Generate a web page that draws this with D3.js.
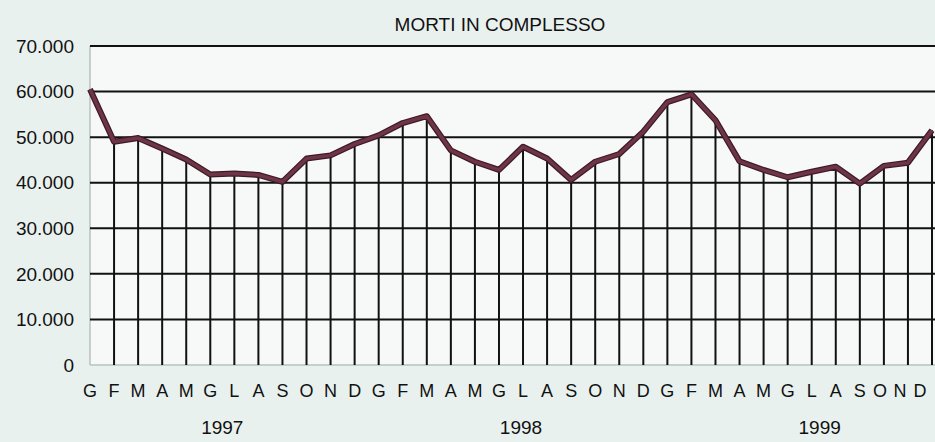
<!DOCTYPE html>
<html>
<head>
<meta charset="utf-8">
<script src="https://cdn.jsdelivr.net/npm/d3@7"></script>
<style>
  body { margin: 0; background: #e9f1ef; }
  svg { display: block; }
</style>
</head>
<body>
<svg id="chart" width="935" height="442"></svg>
<script>
// data: monthly deaths 1997-1999
const months = ["G","F","M","A","M","G","L","A","S","O","N","D"];
const years = ["1997", "1998", "1999"];
const deaths1997 = [60500, 49000, 49800, 47500, 45100, 41800, 42000, 41700, 40200, 45300, 46000, 48500];
const deaths1998 = [50400, 53100, 54600, 47100, 44600, 42800, 47900, 45300, 40600, 44600, 46300, 51200];
const deaths1999 = [57700, 59400, 53700, 44700, 42800, 41200, 42400, 43500, 39800, 43700, 44400, 51500];
const yTicks = [0, 10000, 20000, 30000, 40000, 50000, 60000, 70000];
const title = "MORTI IN COMPLESSO";

const values = deaths1997.concat(deaths1998, deaths1999);
const labels = years.flatMap(() => months);

const svg = d3.select("#chart");
const W = 935, H = 442;
const margin = {top: 46, right: 2, bottom: 77, left: 90};
const font = "Liberation Sans, Arial, sans-serif";

const x = d3.scaleLinear().domain([0, values.length - 1]).range([margin.left, 932]);
const y = d3.scaleLinear().domain([0, 70000]).range([H - margin.bottom, margin.top]);

// plot background
svg.append("rect")
  .attr("x", margin.left)
  .attr("y", y(70000))
  .attr("width", W - margin.left)
  .attr("height", y(0) - y(70000))
  .attr("fill", "#f6f9f8");

// left border and baseline (faint)
svg.append("line")
  .attr("x1", margin.left).attr("x2", margin.left)
  .attr("y1", y(70000)).attr("y2", y(0))
  .attr("stroke", "#b9c2c0").attr("stroke-width", 1.5);
svg.append("line")
  .attr("x1", margin.left).attr("x2", W)
  .attr("y1", y(0)).attr("y2", y(0))
  .attr("stroke", "#b9c2c0").attr("stroke-width", 1.5);

// horizontal gridlines
svg.selectAll(".grid")
  .data(yTicks.filter(d => d > 0))
  .enter().append("line")
  .attr("class", "grid")
  .attr("x1", margin.left).attr("x2", W)
  .attr("y1", d => y(d)).attr("y2", d => y(d))
  .attr("stroke", "#111").attr("stroke-width", 2);

// drop lines from each point to the baseline
svg.selectAll(".drop")
  .data(values.map((v, i) => ({v, i})).filter(d => d.i > 0))
  .enter().append("line")
  .attr("class", "drop")
  .attr("x1", d => x(d.i)).attr("x2", d => x(d.i))
  .attr("y1", y(0)).attr("y2", d => y(d.v))
  .attr("stroke", "#111").attr("stroke-width", 2);

// y tick labels
const fmt = d3.formatLocale({decimal: ",", thousands: ".", grouping: [3], currency: ["", ""]}).format(",d");
svg.selectAll(".ytick")
  .data(yTicks)
  .enter().append("text")
  .attr("class", "ytick")
  .attr("x", 74)
  .attr("y", d => y(d))
  .attr("dy", "0.35em")
  .attr("text-anchor", "end")
  .style("font-family", font)
  .style("font-size", "19px")
  .style("fill", "#111")
  .text(d => fmt(d));

// the series
const line = d3.line()
  .x((d, i) => x(i))
  .y(d => y(d));
svg.append("path")
  .datum(values)
  .attr("d", line)
  .attr("fill", "none")
  .attr("stroke", "#3f1a26")
  .attr("stroke-width", 6)
  .attr("stroke-linejoin", "round");
svg.append("path")
  .datum(values)
  .attr("d", line)
  .attr("fill", "none")
  .attr("stroke", "#6e3546")
  .attr("stroke-width", 3.5)
  .attr("stroke-linejoin", "round");

// month labels (the last few squeezed in slightly so they stay on the page)
svg.selectAll(".month")
  .data(labels)
  .enter().append("text")
  .attr("class", "month")
  .attr("x", (d, i) => x(i) - Math.max(0, i - 32) * 4)
  .attr("y", 397)
  .attr("text-anchor", "middle")
  .style("font-family", font)
  .style("font-size", "18px")
  .style("fill", "#111")
  .text(d => d);

// year labels
svg.selectAll(".year")
  .data(years)
  .enter().append("text")
  .attr("class", "year")
  .attr("x", (d, i) => x(i * 12 + 5.5) + i * 10)
  .attr("y", 434)
  .attr("text-anchor", "middle")
  .style("font-family", font)
  .style("font-size", "19px")
  .style("fill", "#111")
  .text(d => d);

// title
svg.append("text")
  .attr("x", 500)
  .attr("y", 31)
  .attr("text-anchor", "middle")
  .style("font-family", font)
  .style("font-size", "19px")
  .style("fill", "#111")
  .text(title);
</script>
</body>
</html>
